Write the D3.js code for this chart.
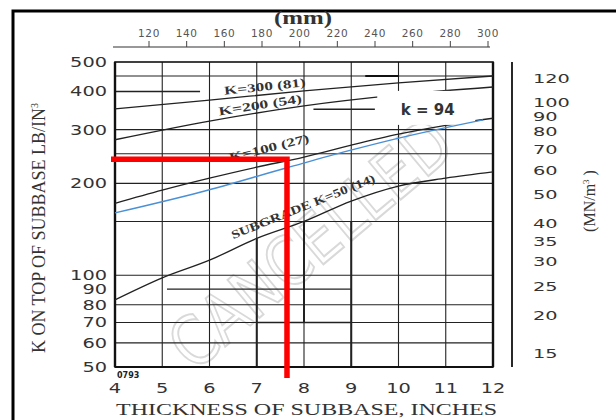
<!DOCTYPE html>
<html>
<head>
<meta charset="utf-8">
<script src="https://cdn.jsdelivr.net/npm/d3@7"></script>
<style>
  html, body { margin: 0; padding: 0; background: #fff; }
  svg { display: block; }
</style>
</head>
<body>
<script>
const thicknessTicks = [4, 5, 6, 7, 8, 9, 10, 11, 12];
const kTicks = [50, 60, 70, 80, 90, 100, 200, 300, 400, 500];
const mnTicks = [15, 20, 25, 30, 35, 40, 50, 60, 70, 80, 90, 100, 120];
const mmTicks = [120, 140, 160, 180, 200, 220, 240, 260, 280, 300];
const gridK = [60, 70, 80, 100, 150, 200, 250, 300, 450];

const subgrade50X = [4, 5, 6, 7, 8, 9, 10, 11, 12];
const subgrade50K = [83, 98, 112, 132, 150, 175, 196, 208, 218];
const subgrade100X = [4, 5, 6, 7, 8, 9, 10, 11, 12];
const subgrade100K = [172, 190, 208, 226, 244, 267, 290, 310, 327];
const subgrade200X = [4, 6, 8, 10, 12];
const subgrade200K = [278, 320, 359, 390, 414];
const subgrade300X = [4, 6, 8, 10, 12];
const subgrade300K = [351, 375, 402, 427, 450];
const k94X = [4, 5.8, 7.64, 8.91, 10.03, 11.79];
const k94K = [160, 187, 225, 255, 282, 323];

const readThickness = 7.64;
const readK = 240;

const W = 616, H = 420;
const svg = d3.select("body").append("svg").attr("width", W).attr("height", H);

var x = d3.scaleLinear().domain([4, 12]).range([115, 493]),
    y = d3.scaleLog().domain([50, 500]).range([367, 62]),
    yMN = d3.scaleLog().domain([50 * 0.2714, 500 * 0.2714]).range([367, 62]),
    xmm = d3.scaleLinear().domain([120, 300]).range([149, 488]);

// outer frame
svg.append("path").attr("d", "M13,420 V11 H616")
    .attr("fill", "none").attr("stroke", "#000").attr("stroke-width", 3);

// watermark
svg.append("text")
    .attr("transform", "translate(326,262) rotate(-40)")
    .attr("text-anchor", "middle")
    .attr("font-family", "DejaVu Sans")
    .attr("font-size", 68)
    .attr("textLength", 345)
    .attr("lengthAdjust", "spacingAndGlyphs")
    .attr("fill", "none").attr("stroke", "#d9d9d9").attr("stroke-width", 2)
    .text("CANCELLED");

// grid
const grid = svg.append("g").attr("stroke", "#222").attr("fill", "none");
grid.selectAll(".h").data(gridK).join("line")
    .attr("x1", x(4)).attr("x2", x(12))
    .attr("y1", d => y(d)).attr("y2", d => y(d))
    .attr("stroke-width", 1.1);
grid.selectAll(".v").data(thicknessTicks).join("line")
    .attr("x1", d => x(d)).attr("x2", d => x(d))
    .attr("y1", y(500)).attr("y2", y(50))
    .attr("stroke-width", 1.1);

// short heavier pieces of the old grid
const partH = [[400, 4, 5.8], [350, 8.2, 9.5], [90, 5.1, 9], [70, 7, 9], [450, 9.3, 10]];
const partV = [[7, 50, 132], [8, 70, 150], [9, 50, 150]];
grid.selectAll(".ph").data(partH).join("line")
    .attr("x1", d => x(d[1])).attr("x2", d => x(d[2]))
    .attr("y1", d => y(d[0])).attr("y2", d => y(d[0]))
    .attr("stroke-width", 1.4);
grid.selectAll(".pv").data(partV).join("line")
    .attr("x1", d => x(d[0])).attr("x2", d => x(d[0]))
    .attr("y1", d => y(d[2])).attr("y2", d => y(d[1]))
    .attr("stroke-width", 2);

// plot frame
svg.append("rect").attr("x", x(4)).attr("y", y(500))
    .attr("width", x(12) - x(4)).attr("height", y(50) - y(500))
    .attr("fill", "none").attr("stroke", "#111").attr("stroke-width", 1.6);
svg.append("line").attr("x1", x(4)).attr("x2", x(4)).attr("y1", y(500)).attr("y2", y(50))
    .attr("stroke", "#111").attr("stroke-width", 2.4);
svg.append("line").attr("x1", x(12)).attr("x2", x(12)).attr("y1", y(500)).attr("y2", y(50))
    .attr("stroke", "#111").attr("stroke-width", 2.4);
svg.append("line").attr("x1", x(4)).attr("x2", x(12)).attr("y1", y(50)).attr("y2", y(50))
    .attr("stroke", "#111").attr("stroke-width", 2.2);

// curves
var line = d3.line().x(d => x(d[0])).y(d => y(d[1])).curve(d3.curveMonotoneX);
const curves = [
    [subgrade50X, subgrade50K],
    [subgrade100X, subgrade100K],
    [subgrade200X, subgrade200K],
    [subgrade300X, subgrade300K]
];
svg.append("g").selectAll("path").data(curves).join("path")
    .attr("d", c => line(d3.zip(c[0], c[1])))
    .attr("fill", "none").attr("stroke", "#222").attr("stroke-width", 1.3);

// curve labels, sitting just above their curves
const labelFont = "Liberation Serif";
const curveLabels = [
    { t: "K=300 (81)", x: 7.17, k: 416, a: -6, w: 82 },
    { t: "K=200 (54)", x: 7.07, k: 362, a: -9, w: 84 },
    { t: "K=100 (27)", x: 7.26, k: 262, a: -14, w: 82 },
    { t: "SUBGRADE K=50 (14)", x: 7.98, k: 168, a: -22, w: 154 }
];
svg.append("g").selectAll("text").data(curveLabels).join("text")
    .attr("transform", d => "translate(" + x(d.x) + "," + y(d.k) + ") rotate(" + d.a + ")")
    .attr("text-anchor", "middle").attr("dy", "0.35em")
    .attr("font-family", labelFont).attr("font-size", 12).attr("font-weight", "bold")
    .attr("fill", "#333")
    .attr("textLength", d => d.w).attr("lengthAdjust", "spacingAndGlyphs")
    .text(d => d.t);

// k = 94 callout (white patch over the grid)
svg.append("rect").attr("x", x(9.55)).attr("y", y(402)).attr("width", 98).attr("height", 34)
    .attr("fill", "#fff");
svg.append("line").attr("x1", x(9.3)).attr("x2", x(10)).attr("y1", y(450)).attr("y2", y(450))
    .attr("stroke", "#111").attr("stroke-width", 2);
svg.append("text").attr("x", x(10.62)).attr("y", y(348))
    .attr("text-anchor", "middle").attr("dy", "0.35em")
    .attr("font-family", "DejaVu Sans").attr("font-size", 15).attr("font-weight", "bold")
    .attr("fill", "#333").text("k = 94");

// blue k = 94 line
svg.append("path").attr("d", line(d3.zip(k94X, k94K)))
    .attr("fill", "none").attr("stroke", "#4a90d6").attr("stroke-width", 1.4);

// red reading lines
svg.append("path")
    .attr("d", "M" + (x(4) - 4) + "," + y(readK) + " H" + x(readThickness) + " V" + (y(50) + 11))
    .attr("fill", "none").attr("stroke", "#f00").attr("stroke-width", 5.5)
    .attr("stroke-linejoin", "miter");

// tick label helper: the scanned digits are wide, so stretch them
const tickFont = "DejaVu Sans";
function wide(sel, size, perChar) {
    sel.attr("font-family", tickFont).attr("font-size", size)
        .attr("textLength", d => String(d).length * perChar)
        .attr("lengthAdjust", "spacingAndGlyphs")
        .attr("fill", "#333").text(d => d);
}

// left axis labels
svg.append("g").selectAll("text").data(kTicks).join("text")
    .attr("x", 107).attr("y", d => y(d)).attr("dy", "0.36em")
    .attr("text-anchor", "end")
    .call(wide, 13.5, 12.3);

// bottom axis labels
svg.append("g").selectAll("text").data(thicknessTicks).join("text")
    .attr("x", d => x(d)).attr("y", 393)
    .attr("text-anchor", "middle")
    .call(wide, 14, 12.3);

svg.append("text").attr("x", 117).attr("y", 378)
    .attr("font-family", "DejaVu Sans").attr("font-size", 8).attr("font-weight", "bold")
    .attr("fill", "#222").text("0793");

// right MN/m3 axis
svg.append("line").attr("x1", 512).attr("x2", 512).attr("y1", y(500)).attr("y2", y(50))
    .attr("stroke", "#111").attr("stroke-width", 1.8);
svg.append("g").selectAll("text").data(mnTicks).join("text")
    .attr("x", 533).attr("y", d => yMN(d)).attr("dy", "0.36em")
    .call(wide, 12.5, 12.3);

// top mm axis
var gTop = svg.append("g");
gTop.append("line").attr("x1", 113).attr("x2", xmm(300) + 2).attr("y1", 47).attr("y2", 47)
    .attr("stroke", "#333").attr("stroke-width", 1.2);
gTop.selectAll("line.t").data(mmTicks).join("line")
    .attr("x1", d => xmm(d)).attr("x2", d => xmm(d)).attr("y1", 41).attr("y2", 47)
    .attr("stroke", "#444").attr("stroke-width", 1);
gTop.selectAll("text").data(mmTicks).join("text")
    .attr("x", d => xmm(d)).attr("y", 37)
    .attr("text-anchor", "middle")
    .attr("font-family", "DejaVu Sans").attr("font-size", 10.5).attr("letter-spacing", 0.6)
    .attr("fill", "#555").text(d => d);
svg.append("text").attr("x", 303).attr("y", 24)
    .attr("text-anchor", "middle")
    .attr("font-family", "Liberation Serif").attr("font-size", 18).attr("font-weight", "bold")
    .attr("textLength", 58).attr("lengthAdjust", "spacingAndGlyphs")
    .attr("fill", "#333").text("(mm)");

// axis titles
svg.append("text").attr("x", 116).attr("y", 415)
    .attr("font-family", "Liberation Serif").attr("font-size", 17)
    .attr("textLength", 381).attr("lengthAdjust", "spacingAndGlyphs")
    .attr("fill", "#333").text("THICKNESS  OF  SUBBASE,  INCHES");

var leftTitle = svg.append("text")
    .attr("transform", "translate(45,228) rotate(-90)")
    .attr("text-anchor", "middle")
    .attr("font-family", "Liberation Serif").attr("font-size", 18)
    .attr("fill", "#333");
leftTitle.append("tspan").text("K ON TOP OF SUBBASE LB/IN");
leftTitle.append("tspan").attr("font-size", 10).attr("dy", -7).text("3");

var rightTitle = svg.append("text")
    .attr("transform", "translate(595,201) rotate(-90)")
    .attr("text-anchor", "middle")
    .attr("font-family", "Liberation Serif").attr("font-size", 16)
    .attr("fill", "#333");
rightTitle.append("tspan").text("(MN/m");
rightTitle.append("tspan").attr("font-size", 9).attr("dy", -6).text("3");
rightTitle.append("tspan").attr("dy", 6).text(" )");
</script>
</body>
</html>
